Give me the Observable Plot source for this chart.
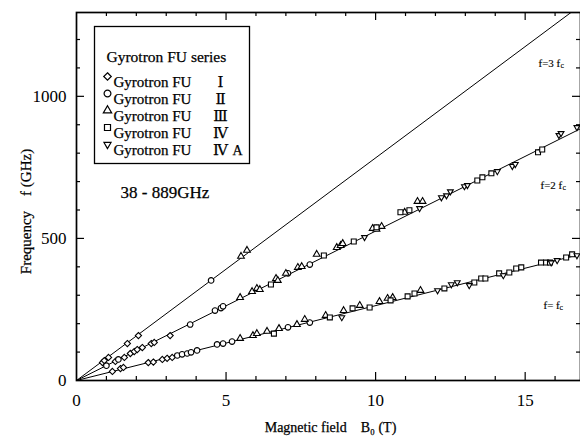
<!DOCTYPE html>
<html><head><meta charset="utf-8">
<script src="https://cdn.jsdelivr.net/npm/d3@7"></script>
<script src="https://cdn.jsdelivr.net/npm/@observablehq/plot@0.6"></script>
<style>body{margin:0;background:#fff}</style>
</head><body><div id="chart"></div>
<script>
// ---- data (B0 in T, f in GHz) ----
const seriesNames = ["Gyrotron FU I", "Gyrotron FU II", "Gyrotron FU III", "Gyrotron FU IV", "Gyrotron FU IVA"];
const legendRomans = ["Ⅰ", "Ⅱ", "Ⅲ", "Ⅳ", "Ⅳ"];
const legendSuffix = ["", "", "", "", "A"];
const fuI = [[0.87,63],[0.93,70],[1.07,81],[1.7,130],[2.07,158],
  [1.3,67],[1.6,81],[1.8,95],[1.93,102],[2.03,109],[2.2,116],[2.5,130],[2.6,134],[3.13,158],
  [1.2,32],[1.47,42],[1.57,46],[2.4,63],[2.57,65],[2.87,74],[3.03,78],[3.2,81]];
const fuII = [[3.8,197],[4.5,352],
  [1.0,52],[1.4,74],[4.63,246],[4.83,255],[4.9,261],[7.07,377],[7.8,408],
  [3.37,88],[3.53,92],[3.7,95],[3.83,99],[4.03,106],[4.7,127],[4.9,130],[5.2,137],[7.07,187],[7.8,204]];
const fuIII = [[5.5,437],[5.7,458],
  [5.47,292],[5.87,313],[6.03,324],[6.13,320],[6.67,359],[6.73,352],[7.0,377],[7.4,398],[7.53,401],[8.03,444],[8.7,468],[8.83,475],[8.9,482],[9.9,535],[10.03,532],[10.2,542],[10.97,592],[11.4,630],[11.57,630],
  [5.47,148],[5.9,158],[6.03,165],[6.37,173],[6.77,183],[7.37,197],[7.63,215],[8.33,229],[8.93,246],[9.47,264],[10.13,278],[10.4,289],[10.57,292],[11.5,317]];
const fuIV = [[6.5,338],[8.27,440],[9.27,489],[10.03,539],[10.83,592],[11.13,599],[13.4,704],[13.57,715],[13.87,729],[15.43,803],[15.57,813],
  [6.6,165],[8.47,222],[9.23,254],[9.8,257],[10.5,282],[11.07,296],[11.3,306],[12.3,324],[13.3,345],[13.53,359],[13.67,359],[14.13,377],[14.47,380],[14.7,394],[14.87,398],[15.53,415],[15.7,415],[15.83,415],[16.37,433],[16.57,444]];
const fuIVA = [[9.63,504],[11.47,606],[12.2,644],[12.37,651],[12.5,665],[12.97,683],[13.07,687],[14.07,736],[14.57,754],[14.67,761],[16.13,863],[16.2,870],[16.73,891],
  [8.87,222],[12.07,317],[12.53,338],[12.73,345],[13.13,335],[14.27,370],[15.87,415],[16.07,423],[16.73,440]];
// harmonic lines f = n fc, drawn from origin to end point
const lineLabels = ["f= f", "f=2 f", "f=3 f"];
const lineEndB = [16.85, 16.85, 16.85];
const lineEndF = [444, 886, 1320];
const xTickLabels = [0, 5, 10, 15];
const yTickLabels = [0, 500, 1000];
const xTicks = d3.range(1, 17);
const yTicks = d3.range(100, 1300, 100);

// ---- layout ----
const W = 580, H = 441, mL = 76, mT = 12, mB = 61, mR = 0;
const xMax = 16.85, yMax = 1295;
const pxX = xMax / (W - mL - mR), pxY = yMax / (H - mT - mB);
const serif = "'Liberation Serif', 'Times New Roman', 'DejaVu Serif', serif";
const ink = {fill: "black", stroke: "black", strokeWidth: 0.25};

const triDown = {draw(ctx, size) {
  const R = Math.sqrt(size / Math.PI) * 1.2;
  ctx.moveTo(0, R);
  ctx.lineTo(-R * 0.866, -R / 2);
  ctx.lineTo(R * 0.866, -R / 2);
  ctx.closePath();
}};
const symbols = ["diamond2", "circle", "triangle", "square", triDown];
const seriesData = [fuI, fuII, fuIII, fuIV, fuIVA];
const points = seriesData.flatMap((arr, s) => arr.map(([b, f]) => ({b, f, s})));
const lines = lineEndB.map((b, i) => ({b, f: lineEndF[i]}));

const tickLen = (d, major) => (d % major === 0 ? 8 : 4);
const marks = [
  Plot.link(lines, {x1: () => 0, y1: () => 0, x2: "b", y2: "f", stroke: "black", strokeWidth: 1, clip: true}),
  // inward ticks on all four sides
  Plot.ruleX(xTicks, {x: d => d, y1: 0, y2: d => tickLen(d, 5) * pxY, stroke: "black", strokeWidth: 1.2}),
  Plot.ruleX(xTicks, {x: d => d, y1: yMax, y2: d => yMax - tickLen(d, 5) * pxY, stroke: "black", strokeWidth: 1.2}),
  Plot.ruleY(yTicks, {y: d => d, x1: 0, x2: d => tickLen(d, 500) * pxX, stroke: "black", strokeWidth: 1.2}),
  Plot.ruleY(yTicks, {y: d => d, x1: xMax, x2: d => xMax - tickLen(d, 500) * pxX, stroke: "black", strokeWidth: 1.2}),
  Plot.frame({stroke: "black", strokeWidth: 1.7}),
  Plot.axisX({ticks: xTickLabels, tickSize: 0, tickPadding: 13, fontSize: 17, label: null, ...ink}),
  Plot.axisY({ticks: yTickLabels, tickFormat: d => String(d), tickSize: 0, tickPadding: 10, fontSize: 17, label: null, ...ink}),
];
symbols.forEach((sym, s) => {
  marks.push(Plot.dot(points.filter(p => p.s === s), {x: "b", y: "f", symbol: () => sym, r: s === 2 ? 2.5 : 2.8, stroke: "black", fill: "white", strokeWidth: 1.1}));
});
// legend box
marks.push(Plot.frame({insetLeft: 18, insetTop: 14, insetRight: 331, insetBottom: 217, fill: "white", stroke: "black", strokeWidth: 1.3}));
marks.push(Plot.text(["Gyrotron FU series"], {text: d => d, frameAnchor: "top-left", dx: 30, dy: 38, textAnchor: "start", fontSize: 15.5, ...ink}));
seriesNames.forEach((name, i) => {
  const dy = 64 + 17 * i;
  marks.push(Plot.dot([name], {frameAnchor: "top-left", dx: 31, dy, symbol: () => symbols[i], r: i === 2 ? 3.1 : 3.4, stroke: "black", fill: "white", strokeWidth: 1.2}));
  marks.push(Plot.text(["Gyrotron FU"], {text: d => d, frameAnchor: "top-left", dx: 37, dy, textAnchor: "start", fontSize: 15, ...ink}));
  marks.push(Plot.text([legendRomans[i]], {text: d => d, frameAnchor: "top-left", dx: 144, dy, textAnchor: "middle", fontSize: 15, ...ink}));
  if (legendSuffix[i]) marks.push(Plot.text([legendSuffix[i]], {text: d => d, frameAnchor: "top-left", dx: 156, dy: dy + 1, textAnchor: "start", fontSize: 14, ...ink}));
});
marks.push(Plot.text(["38 - 889GHz"], {text: d => d, frameAnchor: "top-left", dx: 44, dy: 173, textAnchor: "start", fontSize: 17, ...ink}));
// line labels with subscript c
const labelPos = [[467, 289, 483], [464, 169, 486], [462, 47, 484]];
lineLabels.forEach((lab, i) => {
  const [dx, dy, cx] = labelPos[i];
  marks.push(Plot.text([lab], {text: d => d, frameAnchor: "top-left", dx, dy, textAnchor: "start", fontSize: 11, ...ink, strokeWidth: 0.15}));
  marks.push(Plot.text(["c"], {text: d => d, frameAnchor: "top-left", dx: cx, dy: dy + 3, textAnchor: "start", fontSize: 8, ...ink, strokeWidth: 0.1}));
});
// axis titles
marks.push(Plot.text(["Magnetic field\u00a0\u00a0\u00a0\u00a0B\u2080 (T)"], {text: d => d, frameAnchor: "top-left", dx: 254, dy: 410, textAnchor: "middle", fontSize: 14, ...ink}));
marks.push(Plot.text(["Frequency\u00a0\u00a0\u00a0\u00a0f (GHz)"], {text: d => d, frameAnchor: "top-left", dx: -56, dy: 199, textAnchor: "middle", rotate: -90, fontSize: 15, ...ink}));

const chart = Plot.plot({
  width: W, height: H,
  marginLeft: mL, marginRight: mR, marginTop: mT, marginBottom: mB,
  x: {domain: [0, xMax]},
  y: {domain: [0, yMax]},
  style: {fontFamily: serif, background: "white", color: "black", overflow: "visible"},
  marks
});
document.getElementById("chart").appendChild(chart);
</script>
</body></html>
